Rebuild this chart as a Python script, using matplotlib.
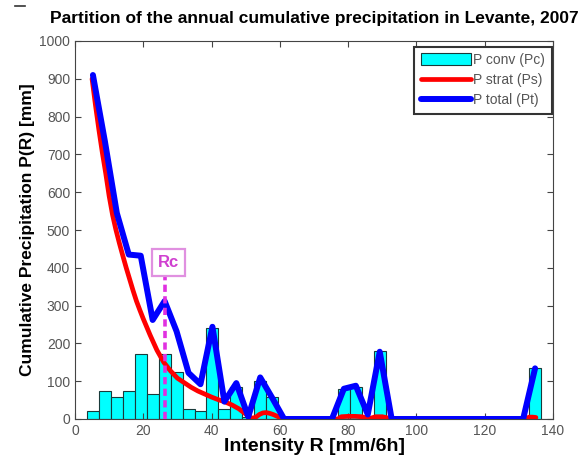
import matplotlib
matplotlib.use("Agg")
import matplotlib.pyplot as plt
from matplotlib.lines import Line2D
import numpy as np

# ---- data ----
bin_edges_left = [3.5 + 3.5 * k for k in range(39)]
bin_width = 3.5
p_conv = [22, 73, 57, 73, 172, 66, 172, 125, 26, 22,
          240, 26, 85, 5, 100, 58, 0, 0, 0, 0,
          0, 80, 85, 8, 180, 0, 0, 0, 0, 0,
          0, 0, 0, 0, 0, 0, 0, 134, 0]

strat_R = [5, 6, 7, 8, 9, 10, 11, 12, 13, 14, 15, 16, 17, 18, 19, 20, 22, 24, 26, 28,
           30, 32, 34, 36, 38, 40, 42, 44, 46, 48, 50, 51, 52, 53, 54, 55, 56, 57, 58, 59,
           60, 61, 77, 78, 80, 82, 84, 86, 87, 88, 90, 91, 93, 132, 133, 134, 135]
p_strat = [900, 830, 765, 705, 650, 590, 540, 500, 465, 432, 400, 370, 340, 312, 288, 265, 222, 182, 150, 127,
           108, 96, 84, 74, 66, 58, 51, 45, 37, 27, 13, 6, 2, 5, 12, 16, 17, 15, 12, 8,
           4, 0, 0, 6, 7, 7, 6, 1, 3, 6, 6, 4, 0, 0, 5, 5, 4]

total_R = [5.25, 8.75, 12.25, 15.75, 19.25, 22.75, 26.25, 29.75, 33.25, 36.75,
           40.25, 43.75, 47.25, 50.75, 54.25, 57.75, 61.25, 75.25, 78.75, 82.25,
           85.75, 89.25, 92.75, 131.25, 134.75]
p_total = [910, 735, 545, 435, 432, 262, 312, 232, 122, 92,
           244, 46, 95, 6, 110, 56, 0, 0, 80, 88,
           12, 178, 0, 0, 134]

Rc = 26.25
x_ticks = [0, 20, 40, 60, 80, 100, 120, 140]
y_ticks = [0, 100, 200, 300, 400, 500, 600, 700, 800, 900, 1000]

FONT = 'Liberation Sans'

# ---- figure ----
fig = plt.figure(figsize=(5.81, 4.63), dpi=100)
ax = fig.add_axes([75 / 581, 1 - 419 / 463, (553 - 75) / 581, (419 - 41) / 463])

bars = ax.bar(bin_edges_left, p_conv, width=bin_width, align='edge', color='#00ffff',
              edgecolor='#1a3a3a', linewidth=0.8, label='P conv (Pc)', zorder=1)
l_s, = ax.plot(strat_R, p_strat, color='#ff0000', lw=3.4, label='P strat (Ps)', zorder=2,
               solid_capstyle='round', solid_joinstyle='round')
l_t, = ax.plot(total_R, p_total, color='#0000ff', lw=4.3, label='P total (Pt)', zorder=3,
               solid_capstyle='round', solid_joinstyle='round')

# Rc marker
ax.plot([Rc, Rc], [0, 376], color='#e030e0', lw=2.6, ls=(0, (2.0, 1.2)), zorder=4)
ax.text(Rc + 1.2, 414, 'Rc', color='#d040d0', fontsize=12, fontweight='bold',
        ha='center', va='center', family=FONT, zorder=5,
        bbox=dict(boxstyle='square,pad=0.35', fc='white', ec='#e090e0', lw=1.6))

ax.set_xlim(0, 140)
ax.set_ylim(0, 1000)
ax.set_xticks(x_ticks)
ax.set_yticks(y_ticks)
ax.tick_params(direction='in', top=True, right=True, length=4, width=0.8,
               labelsize=10, labelcolor='#555555', colors='#444444')
for lab in ax.get_xticklabels() + ax.get_yticklabels():
    lab.set_family(FONT)
for s in ax.spines.values():
    s.set_color('#444444')
    s.set_linewidth(0.8)

ax.set_title('Partition of the annual cumulative precipitation in Levante, 2007',
             fontsize=12.5, fontweight='bold', family=FONT, pad=13)
ax.set_xlabel('Intensity R [mm/6h]', fontsize=14, fontweight='bold',
              family=FONT, labelpad=0)
ax.set_ylabel('Cumulative Precipitation P(R) [mm]', fontsize=12.5, fontweight='bold',
              family=FONT, labelpad=3)

leg = ax.legend([bars, l_s, l_t], ['P conv (Pc)', 'P strat (Ps)', 'P total (Pt)'],
                loc='upper right', bbox_to_anchor=(0.997, 0.985), borderaxespad=0,
                fancybox=False, edgecolor='#333333', framealpha=1,
                prop={'family': FONT, 'size': 10},
                handlelength=3.6, handleheight=1.0, handletextpad=0.2, labelspacing=0.45,
                borderpad=0.45)
leg.get_frame().set_linewidth(1.5)
for t in leg.get_texts():
    t.set_color('#555555')

# small dash mark at the top-left corner of the picture
fig.add_artist(Line2D([15 / 581, 25 / 581], [1 - 6 / 463, 1 - 6 / 463],
                      color='#333333', lw=1.2, transform=fig.transFigure))

fig.savefig('out.png', dpi=100)
